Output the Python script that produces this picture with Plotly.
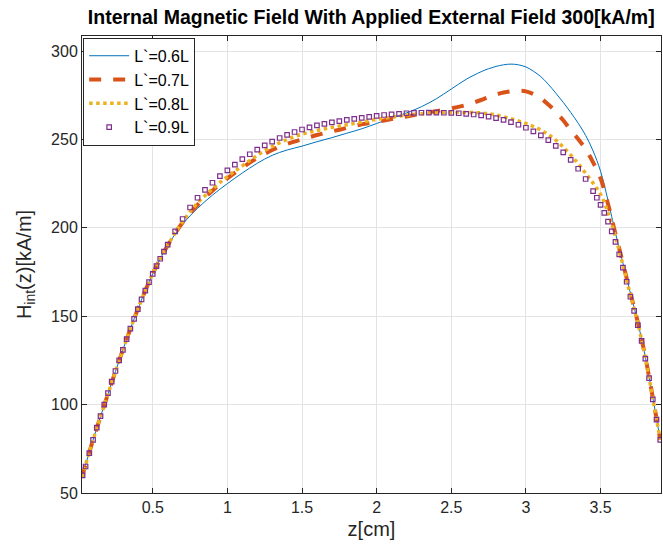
import plotly.graph_objects as go

# ---- data ----
Z_LINE = [0.026, 0.1, 0.2, 0.3, 0.4, 0.5, 0.6, 0.7, 0.8, 0.9, 1.0, 1.1, 1.2, 1.3, 1.4,
          1.5, 1.6, 1.7, 1.8, 1.9, 2.0, 2.1, 2.2, 2.3, 2.4, 2.5, 2.6,
          2.7, 2.75, 2.8, 2.85, 2.9, 2.95, 3.0, 3.05, 3.1, 3.15, 3.2, 3.25, 3.3, 3.35,
          3.4, 3.45, 3.5, 3.55, 3.6, 3.65, 3.7, 3.75, 3.8, 3.85, 3.9]

H_06 = [59, 80, 106, 131, 154, 174, 190, 202, 211, 218.5, 225, 231, 236.5, 241, 244,
        246.2, 248.7, 251, 253.5, 256, 259, 262, 265, 268.5, 273, 278.5, 284,
        288.3, 290, 291.3, 292.2, 292.6, 292.2, 291, 288.6, 285.5, 281.2, 276.2, 271, 265.3, 259.2,
        252.3, 243.5, 232, 215.5, 197, 180, 163, 146.5, 127, 104, 80]

H_07 = [59, 80, 106, 131, 154, 174, 190, 203, 213, 221, 228, 234, 239.5, 244, 247.5,
        250, 252.5, 254.5, 256.5, 258.5, 260, 261.5, 263, 264.5, 266, 267.5, 269.5,
        272.3, 274, 275.4, 276.5, 277.2, 277.5, 277.2, 275.7, 273.2, 269.8, 265.7, 260.8, 255.3, 250.2,
        244.5, 237, 228, 213.5, 196.5, 180, 163, 146.5, 127, 104, 80]

H_08 = [59, 80, 106, 131, 154, 174, 190, 203.5, 214, 222, 229, 235, 241, 246, 250,
        253, 255, 256.8, 258.3, 259.8, 261.4, 262.5, 263.8, 264.5, 265, 265.2, 265.2,
        265, 264.5, 263.8, 262.8, 261.7, 260.4, 259, 257.3, 255.3, 252.7, 249.6, 245.7, 241.2, 236.3,
        230.8, 225.3, 219, 208.5, 195, 179, 162, 146, 126.5, 103.5, 80]

Z_09 = [0.03, 0.05, 0.075, 0.1, 0.125, 0.15, 0.175, 0.2, 0.225, 0.25, 0.275, 0.3, 0.325, 0.35,
        0.375, 0.4, 0.425, 0.45, 0.475, 0.5, 0.525, 0.55, 0.575, 0.6, 0.65, 0.7,
        0.75, 0.8, 0.85, 0.9, 0.95, 1.0, 1.05, 1.1, 1.15, 1.2, 1.25, 1.3, 1.35, 1.4, 1.45,
        1.5, 1.55, 1.6, 1.65, 1.7, 1.75, 1.8, 1.85, 1.9, 1.95, 2.0, 2.05, 2.1, 2.15, 2.2,
        2.25, 2.3, 2.35, 2.4, 2.45, 2.5, 2.55, 2.6, 2.65, 2.7, 2.75, 2.8, 2.85, 2.9, 2.95,
        3.0, 3.05, 3.1, 3.15, 3.2, 3.25, 3.3, 3.35, 3.4, 3.45, 3.475, 3.5, 3.525, 3.55, 3.575,
        3.6, 3.625, 3.65, 3.675, 3.7, 3.725, 3.75, 3.775, 3.8, 3.825, 3.85, 3.875, 3.9]

H_09 = [60, 65, 72.5, 80, 87, 93.5, 100, 106.5, 113, 119, 125, 131, 137, 143,
        148.5, 154, 159.5, 164.5, 169.3, 174, 178.3, 182.5, 186.5, 190.5, 198, 205,
        211.5, 217, 221.5, 225.5, 229.2, 232.5, 235.8, 238.8, 241.6, 244.2, 246.6, 248.8, 250.8, 252.6, 254.2,
        255.6, 256.8, 257.9, 258.8, 259.6, 260.3, 261, 261.6, 262.2, 262.8, 263.3, 263.8, 264.2, 264.5, 264.8,
        265, 265.1, 265.2, 265.2, 265.1, 265, 264.8, 264.5, 264.1, 263.6, 262.9, 262, 261, 259.8, 258.3,
        256.6, 254.6, 252.3, 249.6, 246.4, 242.7, 238.4, 233.4, 227.6, 220.8, 217, 213, 208.5, 203.5, 198,
        192, 185, 177.5, 169.5, 161, 153, 145, 136, 126, 115, 103, 91.5, 80]

NAMES = ["L`=0.6L", "L`=0.7L", "L`=0.8L", "L`=0.9L"]
X_TICKS = [0.5, 1, 1.5, 2, 2.5, 3, 3.5]
Y_TICKS = [50, 100, 150, 200, 250, 300]

BLUE, ORANGE, YELLOW, PURPLE = "#0072BD", "#D95319", "#EDB120", "#7E2F8E"
AX = "#262626"
FONT = "Liberation Sans, Arial, sans-serif"

fig = go.Figure()
fig.add_trace(go.Scatter(x=Z_LINE, y=H_06, name=NAMES[0], mode="lines", line_shape="spline",
                         line=dict(color=BLUE, width=1)))
fig.add_trace(go.Scatter(x=Z_LINE, y=H_07, name=NAMES[1], mode="lines", line_shape="spline",
                         line=dict(color=ORANGE, width=4, dash="dash")))
fig.add_trace(go.Scatter(x=Z_LINE, y=H_08, name=NAMES[2], mode="lines", line_shape="spline",
                         line=dict(color=YELLOW, width=3.5, dash="dot")))
fig.add_trace(go.Scatter(x=Z_09, y=H_09, name=NAMES[3], mode="markers",
                         marker=dict(symbol="square-open", size=4.5, color=PURPLE,
                                     line=dict(width=1.2, color=PURPLE))))

axis_common = dict(showgrid=True, gridcolor="#e3e3e3", gridwidth=1, zeroline=False,
                   showline=True, linecolor=AX, linewidth=1, mirror="ticks",
                   ticks="inside", ticklen=5, tickcolor=AX,
                   tickfont=dict(family=FONT, size=16, color=AX))

fig.update_layout(
    width=663, height=550,
    margin=dict(l=82, r=2, t=36, b=57),
    paper_bgcolor="white", plot_bgcolor="white",
    title=dict(text="<b>Internal Magnetic Field With Applied External Field 300[kA/m]</b>",
               x=0.56, xanchor="center", y=0.969, yanchor="middle",
               font=dict(family=FONT, size=19.5, color="black")),
    xaxis=dict(range=[0.026, 3.905], tickvals=X_TICKS,
               ticktext=[str(v) for v in X_TICKS],
               title=dict(text="z[cm]", font=dict(family=FONT, size=20, color=AX), standoff=6),
               **axis_common),
    yaxis=dict(range=[50, 308.5], tickvals=Y_TICKS,
               title=dict(text="H<sub>int</sub>(z)[kA/m]", font=dict(family=FONT, size=20, color=AX),
                          standoff=14),
               **axis_common),
    legend=dict(x=0.002, y=0.996, xanchor="left", yanchor="top",
                bgcolor="white", bordercolor=AX, borderwidth=1,
                font=dict(family=FONT, size=16, color="black"),
                tracegroupgap=0, itemwidth=40),
    showlegend=True,
)

# remove the default page margin so the 663x550 figure fills the window exactly
fig.write_html("out.html", config={"displayModeBar": False},
               post_script="document.body.style.margin='0';document.body.style.overflow='hidden';")
